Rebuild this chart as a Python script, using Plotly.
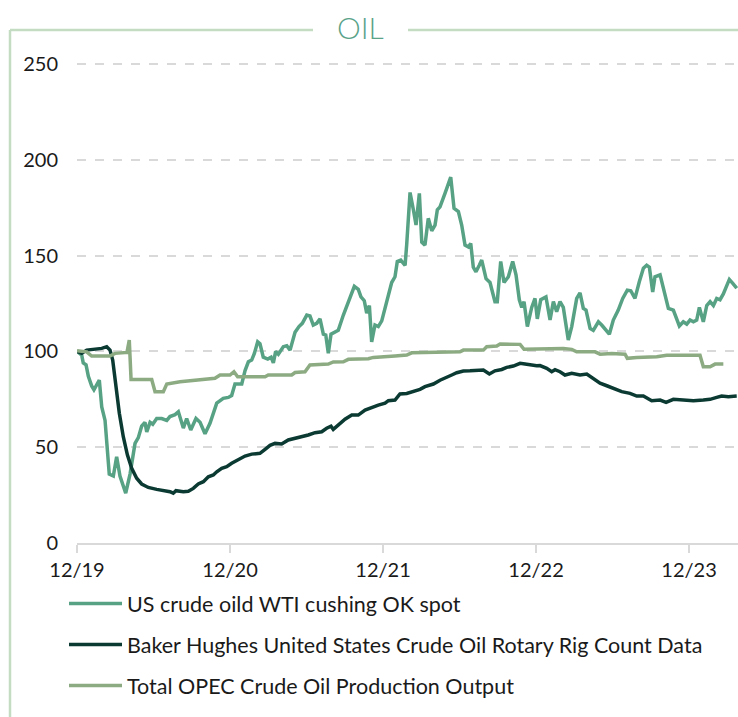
import pandas as pd
import plotly.graph_objects as go

# ---- data (time as months since Dec 2019, value indexed to 100) ----
wti_t = [0.02, 0.37, 0.49, 0.71, 0.89, 1.15, 1.33, 1.75, 1.94, 2.20, 2.53, 2.85, 3.11, 3.37, 3.82,
         4.16, 4.55, 4.81, 5.07, 5.33, 5.47, 5.73, 5.94, 6.25, 6.64, 7.04, 7.29, 7.69, 7.95, 8.34,
         8.60, 8.92, 9.33, 9.65, 10.04, 10.43, 10.96, 11.47, 11.87, 12.13, 12.39, 12.92, 13.18, 13.44,
         13.70, 13.91, 14.17, 14.35, 14.61, 14.96, 15.22, 15.40, 15.58, 15.79, 16.18, 16.45, 16.71,
         17.10, 17.41, 17.67, 18.02, 18.27, 18.53, 18.80, 19.06, 19.32, 19.51, 19.71, 19.92, 20.24,
         20.49, 20.89, 21.23, 21.55, 21.75, 22.06, 22.27, 22.53, 22.72, 22.93, 23.11, 23.37, 23.63,
         23.90, 24.16, 24.42, 24.68, 24.94, 25.12, 25.39, 25.73, 25.86, 26.12, 26.38, 26.59, 26.85,
         27.04, 27.29, 27.55, 27.82, 28.08, 28.26, 28.47, 28.86, 29.12, 29.31, 29.57, 29.91, 30.17,
         30.43, 30.69, 30.88, 31.08, 31.29, 31.55, 31.74, 32.08, 32.39, 32.78, 32.96, 33.23, 33.49,
         33.83, 34.17, 34.43, 34.69, 34.88, 35.06, 35.32, 35.66, 35.92, 36.10, 36.37, 36.57, 36.78,
         37.10, 37.36, 37.62, 37.88, 38.14, 38.53, 38.80, 39.19, 39.45, 39.71, 39.92, 40.24, 40.49,
         40.89, 41.15, 41.41, 41.75, 42.06, 42.45, 42.80, 43.16, 43.43, 43.76, 44.10, 44.42, 44.68,
         44.89, 45.15, 45.33, 45.73, 46.04, 46.38, 46.77, 47.04, 47.24, 47.55, 47.82, 48.08, 48.34,
         48.60, 48.81, 49.12, 49.39, 49.65, 49.91, 50.17, 50.43, 50.69, 50.96, 51.16, 51.43, 51.74]
wti_v = [100, 98, 94, 93, 87, 82, 80, 85, 71, 64, 36, 35, 45, 35, 26,
         36, 52, 55, 61, 63, 58, 63, 62, 65, 65, 64, 66, 67, 68.5, 60,
         65, 59, 65, 63, 57, 62.5, 73, 75.5, 76, 77, 83, 83, 90, 94.6,
         95.5, 99, 105, 104, 97, 96, 97, 94, 100, 98.6, 102.5, 103, 100.7,
         110, 113, 114.7, 119, 118.5, 113.8, 114.7, 117, 109, 108.6, 99, 109, 110,
         111, 119, 125, 131, 134, 132.4, 128.5, 126.5, 120, 124, 105, 113.8, 113,
         116, 123, 130, 136, 139, 147, 147.7, 145, 156, 183, 174, 166, 182.5,
         157, 155.5, 169.5, 163, 166, 174, 175.5, 182.5, 187.7, 191, 174.7, 173, 166,
         155.5, 154.6, 156.4, 144, 141.6, 145, 147.7, 138, 136, 126, 126, 147, 136,
         139, 147, 140, 127, 123, 126, 113, 123, 127.7, 117, 127, 127.7, 128.5,
         116.4, 126, 120.7, 126, 123, 106, 113, 127.7, 130.6, 122.5, 121.6, 112, 111,
         115.5, 113.8, 112, 109, 116.4, 121.6, 127.7, 132, 131.7, 127.7, 136.4, 143.4, 145,
         144, 131, 139, 140, 132, 122.5, 121.6, 117, 113.3, 115.5, 114.3, 116.4, 115.5,
         116.4, 123, 115.5, 124, 126, 124, 127.7, 127, 130, 133.8, 137.6, 135.5, 133]

rig_t = [0.02, 0.37, 0.76, 1.28, 1.94, 2.33, 2.59, 2.80, 3.06, 3.32, 3.63, 3.95, 4.29, 4.68, 5.07,
         5.59, 6.25, 6.90, 7.29, 7.55, 7.76, 8.34, 8.73, 9.12, 9.51, 9.91, 10.30, 10.69, 10.96,
         11.35, 11.74, 12.13, 12.65, 13.18, 13.70, 14.35, 14.75, 15.14, 15.53, 16.05, 16.57, 17.10,
         17.62, 18.14, 18.67, 19.19, 19.58, 19.92, 20.10, 20.49, 21.02, 21.55, 22.06, 22.59, 23.11,
         23.63, 24.16, 24.42, 24.94, 25.33, 25.86, 26.38, 26.90, 27.29, 27.95, 28.47, 28.86, 29.39,
         29.78, 30.30, 30.82, 31.35, 31.87, 32.34, 32.78, 33.31, 33.70, 34.22, 34.75, 35.14, 35.53,
         36.05, 36.31, 36.84, 37.23, 37.49, 37.88, 38.27, 38.80, 39.45, 39.98, 40.49, 41.02, 41.55,
         42.06, 42.72, 43.37, 43.90, 44.42, 45.07, 45.73, 46.20, 46.77, 47.55, 48.34, 49.12, 49.65,
         50.17, 50.56, 51.08, 51.74]
rig_v = [100, 99, 100.7, 101, 101.6, 102.5, 100.7, 95.5, 81.6, 67.7, 55.5, 46, 39, 33.8, 30.8,
         29, 28, 27.3, 26.8, 26, 27.3, 26.8, 27, 28.5, 30.8, 32, 34.6, 35.5, 37.2,
         39, 39.8, 41.6, 43.7, 45.4, 46.4, 46.8, 48.9, 51, 52, 51.7, 53.8, 54.6,
         55.8, 56.4, 57.6, 58.1, 59.9, 61, 59.3, 61.6, 64.6, 66.8, 66.8, 69.4, 70.8,
         72, 73, 74.3, 74.6, 77.8, 78.1, 79, 80.2, 81.6, 83, 85, 86, 87.7,
         88.9, 89.8, 89.9, 90.3, 90.3, 88.2, 89.9, 90.6, 91.7, 92.4, 93.8, 93.4, 92.9,
         92.5, 92.6, 91.2, 89.4, 90.5, 89.4, 87.7, 88.6, 87.7, 88.2, 86, 83.4, 82.1,
         80.7, 79, 78.1, 76.7, 76.7, 74.3, 74.6, 73.4, 75, 74.6, 74.3, 74.6, 75,
         76, 76.7, 76.4, 76.7]

opec_t = [0.0, 0.76, 1.15, 2.59, 2.98, 3.63, 3.92, 4.10, 4.24, 5.86, 6.12, 6.77, 7.04, 8.08, 9.12,
          10.82, 11.22, 12.00, 12.31, 12.60, 14.75, 15.00, 16.84, 17.10, 17.88, 18.27, 19.71, 20.10,
          20.89, 21.28, 22.85, 23.24, 24.94, 25.86, 26.25, 30.04, 30.30, 31.87, 32.13, 32.92, 33.18,
          34.75, 35.06, 37.88, 38.14, 38.80, 39.19, 40.63, 41.02, 41.94, 42.98, 43.16, 43.90, 45.47,
          46.25, 48.86, 49.12, 49.65, 50.04, 50.69]
opec_v = [100.4, 99.8, 97.6, 97.6, 99, 99.3, 99.5, 106, 85.4, 85.4, 79, 79, 83, 84.2, 85,
          86, 87.7, 87.7, 89.4, 86.8, 86.8, 87.7, 87.7, 89, 89.4, 92.9, 93.4, 94.5,
          94.6, 95.9, 96.2, 96.9, 97.6, 98.1, 99.3, 99.8, 100.7, 100.7, 102.5, 102.8, 103.9,
          103.7, 101.1, 101.3, 101.6, 101.1, 99.8, 99.8, 98.6, 99, 98.6, 96.4, 96.9, 97.2,
          98, 98, 92, 92, 93.4, 93.4]

tick_months = [0, 12, 24, 36, 48]
tick_labels = ["12/19", "12/20", "12/21", "12/22", "12/23"]
y_ticks = [0, 50, 100, 150, 200, 250]

names = ["US crude oild WTI cushing OK spot",
         "Baker Hughes United States Crude Oil Rotary Rig Count Data",
         "Total OPEC Crude Oil Production Output"]
colors = ["#57a184", "#0b3a33", "#8cab82"]

base = pd.Timestamp("2019-12-01")


def to_dates(months):
    return [base + pd.Timedelta(days=m * 30.4375) for m in months]


fig = go.Figure()
for t, v, n, c in [(wti_t, wti_v, names[0], colors[0]),
                   (rig_t, rig_v, names[1], colors[1]),
                   (opec_t, opec_v, names[2], colors[2])]:
    fig.add_trace(go.Scatter(x=to_dates(t), y=v, mode="lines", name=n, legendgroup=n,
                             line=dict(color=c, width=3.5)))

font_family = "Lato, 'Open Sans', sans-serif"
frame_color = "#c4dcc1"

W, H = 738, 717
ML, MR, MT, MB = 77, 0, 45, 174
PW, PH = W - ML - MR, H - MT - MB


def px_x(x):
    return (x - ML) / PW


def px_y(y):
    return (H - MB - y) / PH


fig.update_layout(
    width=W, height=H,
    margin=dict(l=ML, r=MR, t=MT, b=MB, autoexpand=False),
    paper_bgcolor="white", plot_bgcolor="white",
    font=dict(family=font_family, size=20, color="#1a1a1a"),
    showlegend=True,
    legend=dict(x=px_x(64), y=px_y(583), xanchor="left", yanchor="top",
                tracegroupgap=10, itemwidth=53,
                font=dict(size=21.5, color="#1a1a1a"),
                bgcolor="rgba(0,0,0,0)"),
    xaxis=dict(type="date", range=to_dates([0, 51.84]),
               tickvals=to_dates(tick_months), ticktext=tick_labels, tickangle=0,
               showgrid=False, zeroline=False, showline=True, linecolor="#d9d9d9", linewidth=2,
               ticks="outside", ticklen=8, tickwidth=2, tickcolor="#d9d9d9",
               tickfont=dict(size=20)),
    yaxis=dict(range=[0, 260], tickvals=y_ticks, showgrid=True, gridcolor="#d9d9d9",
               gridwidth=1.5, griddash="dash", zeroline=False, showline=False,
               ticklabelstandoff=18, tickfont=dict(size=20)),
)

# frame around the chart with a gap for the title
frame = [
    (10, 30, 10, 717),
    (10, 30, 313, 30),
    (408, 30, 738, 30),
]
shapes = []
for x0, y0, x1, y1 in frame:
    shapes.append(dict(type="line", xref="paper", yref="paper",
                       x0=px_x(x0), x1=px_x(x1), y0=px_y(y0), y1=px_y(y1),
                       line=dict(color=frame_color, width=2.5)))
fig.update_layout(shapes=shapes, annotations=[
    dict(text="OIL", xref="paper", yref="paper", showarrow=False,
         x=px_x(360), y=px_y(27), xanchor="center", yanchor="middle",
         font=dict(family=font_family, size=30, color="#5aa389", weight=300))
])

fig.write_html("out.html", config={"displayModeBar": False},
               post_script="document.body.style.margin='0';")
